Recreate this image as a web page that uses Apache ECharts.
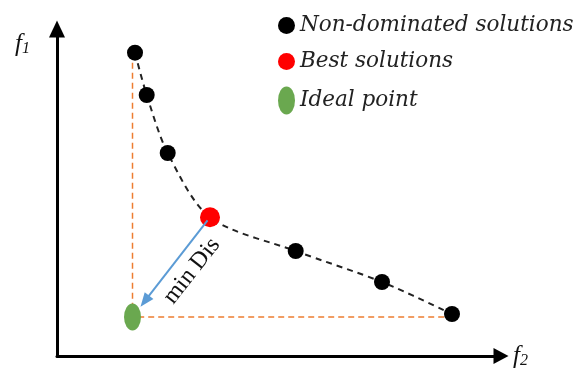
<!DOCTYPE html>
<html>
<head>
<meta charset="utf-8">
<script src="https://cdn.jsdelivr.net/npm/echarts@6/dist/echarts.min.js"></script>
<style>html,body{margin:0;padding:0;background:#fff}#c{width:583px;height:371px}</style>
</head>
<body>
<div id="c"></div>
<script>
// ---- data (f2 = horizontal, f1 = vertical) ----
const nonDomF2 = [78, 89.7, 110.7, 238.7, 325, 395];
const nonDomF1 = [303.3, 261, 203, 105, 74, 42];
const bestF2 = [153];
const bestF1 = [138.7];
const idealF2 = [75.5];
const idealF1 = [39];
const seriesNames = ['Non-dominated solutions', 'Best solutions', 'Ideal point'];
const annotation = 'min Dis';

const chart = echarts.init(document.getElementById('c'));

const nonDom = nonDomF2.map((x, i) => [x, nonDomF1[i]]);
const best = bestF2.map((x, i) => [x, bestF1[i]]);
const ideal = idealF2.map((x, i) => [x, idealF1[i]]);
const front = nonDom.concat(best).sort((a, b) => a[0] - b[0]);

// guide lines: from first front point down to ideal, then to last front point
const guide = [[ideal[0][0], front[0][1]], ideal[0], [front[front.length - 1][0], ideal[0][1]]];

// arrow from best to ideal, shortened at both ends
const dx = best[0][0] - ideal[0][0], dy = best[0][1] - ideal[0][1];
const len = Math.hypot(dx, dy), ux = dx / len, uy = dy / len;
const arrowStart = [best[0][0] - 4 * ux, best[0][1] - 4 * uy];
const arrowEnd = [ideal[0][0] + 20 * ux, ideal[0][1] + 20 * uy];

const ellipse = 'path://M50,0 A50,50 0 1,1 50,100 A50,50 0 1,1 50,0 Z';

chart.setOption({
  animation: false,
  grid: { left: 57, top: 29, right: 82, bottom: 15 },
  xAxis: {
    type: 'value', min: 0, max: 444,
    axisLine: { show: true, onZero: false, symbol: ['none', 'triangle'], symbolSize: [16, 15],
      lineStyle: { color: '#000', width: 3 } },
    axisTick: { show: false }, axisLabel: { show: false }, splitLine: { show: false },
    name: '{f|f}{s|2}', nameLocation: 'end', nameGap: 12,
    nameTextStyle: { rich: {
      f: { fontFamily: 'Liberation Serif', fontStyle: 'italic', fontSize: 25, color: '#111' },
      s: { fontFamily: 'Liberation Serif', fontStyle: 'italic', fontSize: 16, color: '#111', padding: [10, 0, 0, 0] }
    } }
  },
  yAxis: {
    type: 'value', min: 0, max: 327,
    axisLine: { show: true, onZero: false, symbol: ['none', 'triangle'], symbolSize: [16, 17],
      lineStyle: { color: '#000', width: 3 } },
    axisTick: { show: false }, axisLabel: { show: false }, splitLine: { show: false },
    name: '{f|f}{s|1}', nameLocation: 'end', nameGap: -28,
    nameTextStyle: { align: 'right', padding: [0, 27, 0, 0], rich: {
      f: { fontFamily: 'Liberation Serif', fontStyle: 'italic', fontSize: 25, color: '#111' },
      s: { fontFamily: 'Liberation Serif', fontStyle: 'italic', fontSize: 16, color: '#111', padding: [10, 0, 0, 0] }
    } }
  },
  legend: {
    orient: 'vertical', left: 273, top: 9.5, itemWidth: 17, itemHeight: 28, itemGap: 14,
    symbolKeepAspect: false,
    data: [
      { name: seriesNames[0], icon: 'circle' },
      { name: seriesNames[1], icon: 'circle' },
      { name: seriesNames[2], icon: ellipse }
    ],
    textStyle: { fontFamily: 'DejaVu Serif', fontStyle: 'italic', fontSize: 21.5, color: '#222' }
  },
  series: [
    {
      type: 'line', data: guide, symbol: 'none', silent: true, z: 1,
      lineStyle: { color: '#ED7D31', width: 1.5, type: [6, 4] }
    },
    {
      type: 'line', data: front, symbol: 'none', smooth: 0.3, silent: true, z: 1,
      lineStyle: { color: '#222', width: 2, type: [6, 5] }
    },
    {
      name: seriesNames[0], type: 'scatter', data: nonDom, symbol: 'circle', symbolSize: 16, z: 3,
      itemStyle: { color: '#000', opacity: 1 }
    },
    {
      name: seriesNames[1], type: 'scatter', data: best, symbol: 'circle', symbolSize: 20, z: 3,
      itemStyle: { color: '#FF0000', opacity: 1 }
    },
    {
      name: seriesNames[2], type: 'scatter', data: ideal, symbol: ellipse, symbolSize: [17, 27], z: 3,
      itemStyle: { color: '#6AA84F', opacity: 1 },
      markLine: {
        silent: true, symbol: ['none', 'triangle'], symbolSize: [11, 14],
        label: { show: false },
        lineStyle: { color: '#5B9BD5', width: 2, type: 'solid', opacity: 1 },
        data: [[{ coord: arrowStart }, { coord: arrowEnd }]]
      }
    }
  ],
  graphic: [{
    type: 'text', x: 192, y: 271, rotation: 52 * Math.PI / 180,
    style: { text: annotation, fontFamily: 'Liberation Serif', fontSize: 24, fill: '#111',
      align: 'center', verticalAlign: 'middle' }
  }]
});
</script>
</body>
</html>
